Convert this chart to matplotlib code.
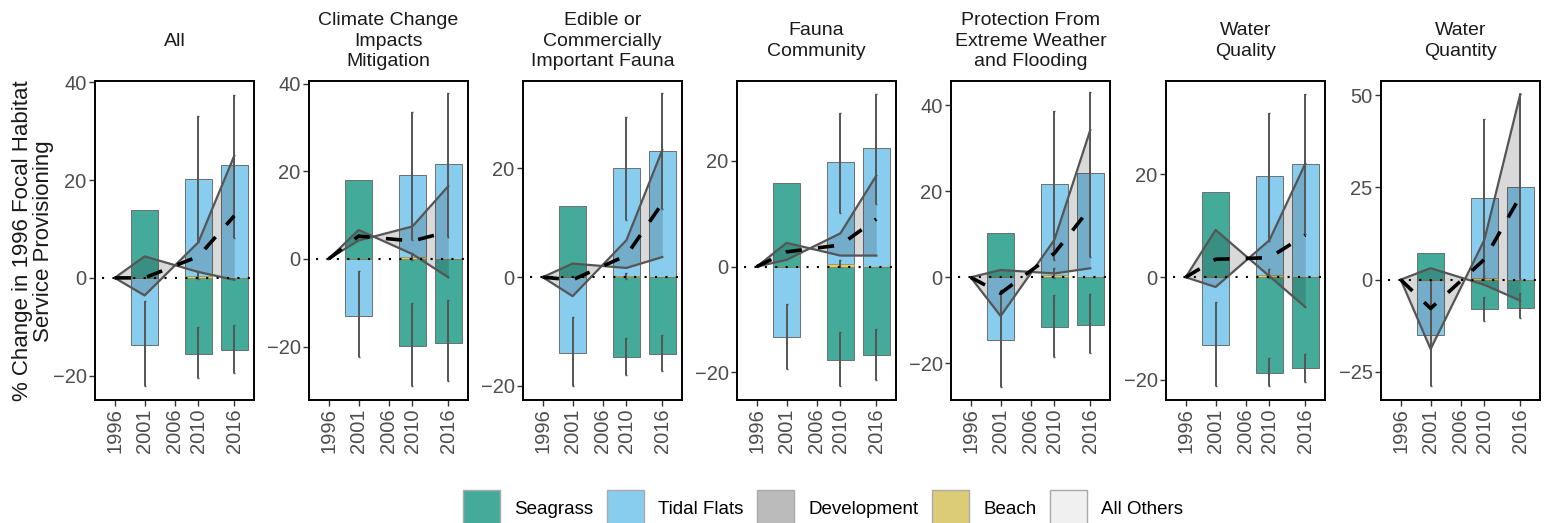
import numpy as np
import matplotlib.pyplot as plt
from matplotlib.patches import Patch

plt.rcParams["font.family"] = ["Liberation Sans", "DejaVu Sans"]

nan = np.nan

# facet titles
titles = [
    "All",
    "Climate Change\nImpacts\nMitigation",
    "Edible or\nCommercially\nImportant Fauna",
    "Fauna\nCommunity",
    "Protection From\nExtreme Weather\nand Flooding",
    "Water\nQuality",
    "Water\nQuantity",
]

bar_years = [2001, 2010, 2016]
line_years = [1996, 2001, 2010, 2016]
x_ticks = [1996, 2001, 2006, 2010, 2016]

# stacked habitat contributions (% change) at 2001, 2010, 2016
seagrass = [
    [13.8, -15.6, -14.8],
    [17.9, -19.9, -19.2],
    [13.1, -14.7, -14.2],
    [15.8, -17.6, -16.7],
    [10.2, -11.5, -11.0],
    [16.6, -18.6, -17.7],
    [7.2, -8.0, -7.6],
]
tidal_flats = [
    [-13.8, 20.3, 23.1],
    [-13.0, 19.2, 21.7],
    [-13.9, 20.0, 23.2],
    [-13.3, 19.7, 22.5],
    [-14.6, 21.7, 24.3],
    [-13.2, 19.7, 22.1],
    [-15.0, 22.1, 25.1],
]
beach = [
    [0.0, 0.4, 0.0],
    [0.0, 0.5, 0.0],
    [0.0, 0.3, 0.0],
    [0.0, 0.5, 0.0],
    [0.0, 0.5, 0.0],
    [0.0, 0.5, 0.0],
    [0.0, 0.5, 0.0],
]

# error bar ranges
tidal_lo = [
    [-22.2, 7.3, 8.1],
    [-22.4, 4.4, 4.9],
    [-20.1, 10.5, 12.5],
    [-19.3, 10.2, 11.9],
    [-25.5, 4.0, 4.8],
    [-21.2, 7.1, 8.4],
    [-28.9, 0.4, 0.3],
]
tidal_hi = [
    [-4.8, 33.2, 37.4],
    [-2.7, 33.5, 37.9],
    [-7.4, 29.5, 33.8],
    [-7.0, 29.1, 32.7],
    [-3.0, 38.7, 43.0],
    [-4.9, 32.0, 35.7],
    [0.0, 43.4, 50.2],
]
seagrass_lo = [
    [nan, -20.5, -19.5],
    [nan, -29.1, -27.9],
    [nan, -18.0, -17.2],
    [nan, -22.5, -21.5],
    [nan, -18.4, -17.6],
    [nan, -21.1, -20.3],
    [nan, -11.1, -10.5],
]
seagrass_hi = [
    [nan, -10.0, -9.7],
    [nan, -10.0, -9.4],
    [nan, -11.1, -10.7],
    [nan, -12.3, -11.8],
    [nan, -4.1, -3.9],
    [nan, -15.7, -15.0],
    [nan, -4.8, -3.5],
]
beach_lo = [-0.2, -0.2, -0.4, -0.1, -0.2, -0.2, -0.2]
beach_hi = [1.4, 1.3, 0.7, 1.3, 2.1, 1.6, 1.0]

# grey band edges and mean (dashed) for 1996, 2001, 2010, 2016
band_a = [
    [0, 4.4, 1.2, -0.4],
    [0, 6.6, 1.1, -4.2],
    [0, 2.5, 1.7, 3.7],
    [0, 4.5, 2.1, 2.1],
    [0, 1.7, 0.9, 2.1],
    [0, 9.2, 0.2, -5.8],
    [0, 3.1, -1.4, -5.7],
]
band_b = [
    [0, -3.6, 7.3, 25.0],
    [0, 4.2, 7.4, 16.6],
    [0, -3.5, 6.8, 23.4],
    [0, 1.3, 6.3, 17.2],
    [0, -9.0, 8.7, 34.2],
    [0, -1.9, 7.2, 22.1],
    [0, -18.8, 10.8, 50.2],
]
mean_line = [
    [0, 0.0, 4.4, 12.7],
    [0, 5.2, 4.1, 6.2],
    [0, -0.5, 4.0, 13.6],
    [0, 2.8, 4.1, 9.0],
    [0, -3.7, 5.6, 16.1],
    [0, 3.5, 3.8, 8.2],
    [0, -7.8, 5.5, 22.6],
]

y_limits = [(-25, 40.3), (-32.2, 40.6), (-22.6, 36.1), (-25.2, 35.1),
            (-28.5, 45.6), (-23.9, 38.2), (-32.6, 53.8)]
y_ticks = [[-20, 0, 20, 40], [-20, 0, 20, 40], [-20, 0, 20], [-20, 0, 20],
           [-20, 0, 20, 40], [-20, 0, 20], [-25, 0, 25, 50]]

legend_names = ["Seagrass", "Tidal Flats", "Development", "Beach", "All Others"]
legend_colors = ["#44AA99", "#88CCEE", "#BBBBBB", "#DDCC77", "#F0F0F0"]

W, H = 1551, 523
fig = plt.figure(figsize=(W / 100, H / 100), dpi=100)

lefts = [95, 309, 523, 737, 951, 1166, 1381]
ax_w, ax_top, ax_bot = 159, 81, 400

edge = "#6e6e6e"
for i, left in enumerate(lefts):
    ax = fig.add_axes([left / W, 1 - ax_bot / H, ax_w / W, (ax_bot - ax_top) / H])

    ax.bar(bar_years, seagrass[i], width=4.5, color="#44AA99",
           edgecolor=edge, linewidth=0.7, zorder=2)
    ax.bar(bar_years, tidal_flats[i], width=4.5, color="#88CCEE",
           edgecolor=edge, linewidth=0.7, zorder=2)
    ax.bar(bar_years, beach[i], width=4.5, color="#DDCC77",
           edgecolor="#9a8a40", linewidth=0.5, zorder=2)

    ax.fill_between(line_years, band_a[i], band_b[i], color="black",
                    alpha=0.15, linewidth=0, zorder=3)
    ax.plot(line_years, band_a[i], color="#555555", lw=1.6, zorder=4)
    ax.plot(line_years, band_b[i], color="#555555", lw=1.6, zorder=4)

    for lo, hi in ((tidal_lo[i], tidal_hi[i]), (seagrass_lo[i], seagrass_hi[i])):
        lo = np.array(lo)
        hi = np.array(hi)
        ok = ~np.isnan(lo)
        yrs = np.array(bar_years)[ok]
        ax.errorbar(yrs, (lo[ok] + hi[ok]) / 2, yerr=(hi[ok] - lo[ok]) / 2,
                    fmt="none", ecolor="#555555", elinewidth=1.4,
                    capsize=1.0, capthick=1.0, zorder=4)
    ax.errorbar([2010], [(beach_lo[i] + beach_hi[i]) / 2],
                yerr=[(beach_hi[i] - beach_lo[i]) / 2], fmt="none",
                ecolor="#555555", elinewidth=1.4, capsize=1.0, zorder=4)

    ax.hlines(0, 1993.9, 2019.3, color="black", linestyle=(0, (1, 4)),
              lw=1.5, zorder=5)
    ax.plot(line_years, mean_line[i], color="black", lw=2.6,
            dashes=(4.5, 4.5), dash_capstyle="butt", zorder=6)

    ax.set_xlim(1992.7, 2019.3)
    ax.set_ylim(*y_limits[i])
    ax.set_xticks(x_ticks)
    ax.set_xticklabels([str(t) for t in x_ticks], rotation=90)
    ax.set_yticks(y_ticks[i])
    ax.tick_params(direction="out", length=4, width=1, color="#333333",
                   labelsize=14.5, labelcolor="#4d4d4d", pad=2)
    for sp in ax.spines.values():
        sp.set_linewidth(1.4)
        sp.set_color("black")

    cx = (left + ax_w / 2) / W
    fig.text(cx, 1 - 41 / H, titles[i], ha="center", va="center",
             fontsize=14, color="#1a1a1a", linespacing=1.3)

fig.text(33 / W, 1 - 241 / H,
         "% Change in 1996 Focal Habitat\nService Provisioning",
         rotation=90, ha="center", va="center", fontsize=16,
         color="#1a1a1a", linespacing=1.0)

handles = [Patch(facecolor=c, edgecolor="#aaaaaa", linewidth=1.0)
           for c in legend_colors]
fig.legend(handles, legend_names, loc="center", ncol=5,
           bbox_to_anchor=(823 / W, 1 - 508 / H), frameon=False,
           fontsize=13.5, handlelength=2.0, handleheight=2.6,
           handletextpad=0.75, columnspacing=0.7, borderpad=0)

fig.savefig("out.png", dpi=100)
